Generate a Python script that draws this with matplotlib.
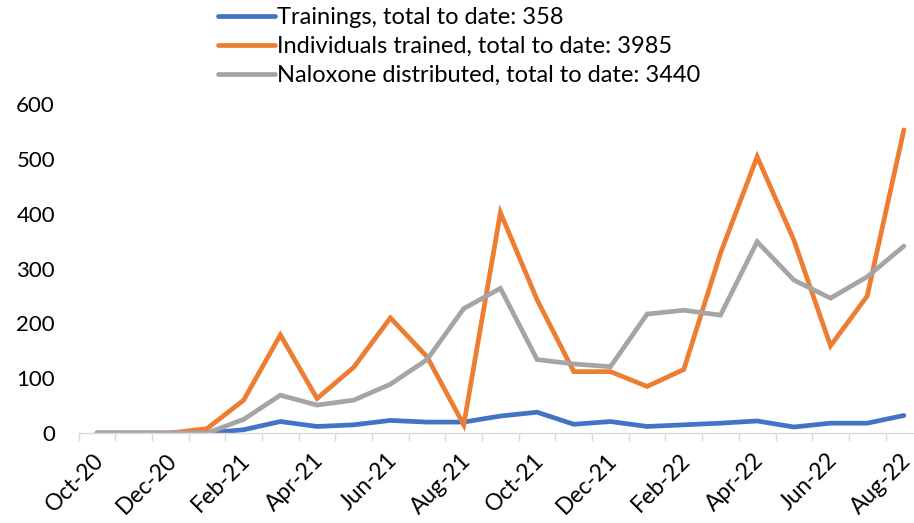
import matplotlib.pyplot as plt
import matplotlib.transforms as mtransforms
import numpy as np

plt.rcParams['font.family'] = ['Lato', 'DejaVu Sans']

months = ['Oct-20', 'Nov-20', 'Dec-20', 'Jan-21', 'Feb-21', 'Mar-21', 'Apr-21', 'May-21',
          'Jun-21', 'Jul-21', 'Aug-21', 'Sep-21', 'Oct-21', 'Nov-21', 'Dec-21', 'Jan-22',
          'Feb-22', 'Mar-22', 'Apr-22', 'May-22', 'Jun-22', 'Jul-22', 'Aug-22']

trainings = [0, 0, 0, 0, 6, 21, 12, 15, 23, 20, 20, 31, 38, 16, 21, 12, 15, 18, 22, 11, 18, 18, 32]
individuals = [0, 0, 0, 8, 60, 179, 63, 120, 210, 139, 15, 402, 243, 112, 112, 85, 116, 328,
               504, 352, 159, 250, 553]
naloxone = [0, 0, 0, 0, 25, 69, 51, 60, 89, 134, 227, 264, 134, 126, 121, 217, 224, 215,
            349, 279, 246, 285, 341]

labels = ['Trainings, total to date: 358',
          'Individuals trained, total to date: 3985',
          'Naloxone distributed, total to date: 3440']
colors = ['#4472C4', '#ED7D31', '#A5A5A5']

fig = plt.figure(figsize=(9.14, 5.23), dpi=100)
ax = fig.add_axes([0.086, 0.172, 0.923, 0.629])

x = np.arange(len(months))
for y, lab, c in zip([trainings, individuals, naloxone], labels, colors):
    ax.plot(x, y, color=c, lw=3.4, label=lab, solid_capstyle='round', solid_joinstyle='miter')

ax.set_xlim(-0.5, len(months) - 0.5)
ax.set_ylim(0, 600)
ax.set_yticks(range(0, 601, 100))
ax.tick_params(axis='y', length=0, pad=17, labelsize=16)

# ticks between categories, labels every other month
ax.set_xticks(np.arange(-0.5, len(months), 1.0), minor=True)
ax.set_xticks(x[::2])
ax.set_xticklabels(months[::2], rotation=45, ha='right', rotation_mode='anchor')
ax.tick_params(axis='x', which='major', length=0, pad=12, labelsize=16.5)
ax.tick_params(axis='x', which='minor', length=6, width=1, color='#D9D9D9')
shift = mtransforms.ScaledTranslation(-4 / 100, 0, fig.dpi_scale_trans)
for t in ax.get_xticklabels():
    t.set_transform(t.get_transform() + shift)

for s in ['top', 'right', 'left']:
    ax.spines[s].set_visible(False)
ax.spines['bottom'].set_color('#D9D9D9')
ax.spines['bottom'].set_linewidth(1)

fig.legend(loc='upper left', bbox_to_anchor=(0.2385, 0.986), frameon=False, fontsize=17,
           handlelength=2.4, handletextpad=0.1, labelspacing=0.33, borderpad=0, borderaxespad=0)

fig.savefig('out.png', dpi=100)
